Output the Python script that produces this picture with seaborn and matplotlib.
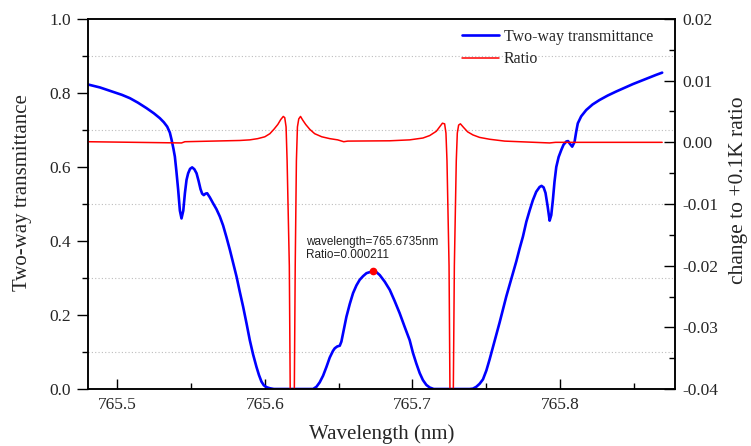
import matplotlib
matplotlib.use("Agg")
import matplotlib.pyplot as plt
import matplotlib.ticker as ticker
import seaborn as sns
import pandas as pd

# Two-way transmittance (left axis)
wl_trans = [765.4800, 765.4881, 765.4971, 765.5030, 765.5084, 765.5138, 765.5197, 765.5247,
            765.5287, 765.5314, 765.5337, 765.5355, 765.5367, 765.5379, 765.5389, 765.5399,
            765.5411, 765.5423, 765.5434, 765.5446, 765.5457, 765.5468, 765.5479, 765.5492,
            765.5506, 765.5521, 765.5536, 765.5550, 765.5563, 765.5574, 765.5585, 765.5597,
            765.5608, 765.5626, 765.5648, 765.5671, 765.5694, 765.5716, 765.5739, 765.5762,
            765.5784, 765.5807, 765.5829, 765.5852, 765.5875, 765.5897, 765.5919, 765.5942,
            765.5959, 765.5976, 765.5992, 765.6010, 765.6033, 765.6060, 765.6200, 765.6326,
            765.6349, 765.6371, 765.6394, 765.6417, 765.6439, 765.6461, 765.6473, 765.6490,
            765.6507, 765.6518, 765.6529, 765.6552, 765.6575, 765.6597, 765.6620, 765.6642,
            765.6665, 765.6688, 765.6735, 765.6755, 765.6778, 765.6812, 765.6846, 765.6879,
            765.6913, 765.6947, 765.6981, 765.7003, 765.7026, 765.7049, 765.7071, 765.7094,
            765.7117, 765.7144, 765.7388, 765.7410, 765.7433, 765.7455, 765.7478, 765.7501,
            765.7523, 765.7545, 765.7568, 765.7591, 765.7613, 765.7636, 765.7659, 765.7681,
            765.7704, 765.7726, 765.7749, 765.7772, 765.7794, 765.7816, 765.7839, 765.7862,
            765.7875, 765.7889, 765.7902, 765.7916, 765.7930, 765.7941, 765.7952, 765.7963,
            765.7975, 765.7991, 765.8009, 765.8024, 765.8043, 765.8055, 765.8065, 765.8083,
            765.8099, 765.8110, 765.8121, 765.8144, 765.8178, 765.8221, 765.8268, 765.8323,
            765.8381, 765.8438, 765.8494, 765.8551, 765.8607, 765.8652, 765.8693]
trans = [0.823, 0.815, 0.803, 0.795, 0.786, 0.774, 0.759, 0.745,
         0.732, 0.721, 0.709, 0.693, 0.673, 0.650, 0.628, 0.590,
         0.540, 0.482, 0.461, 0.482, 0.529, 0.565, 0.583, 0.595,
         0.599, 0.594, 0.583, 0.562, 0.540, 0.528, 0.524, 0.528,
         0.529, 0.518, 0.502, 0.486, 0.466, 0.442, 0.410, 0.376,
         0.341, 0.304, 0.263, 0.222, 0.177, 0.132, 0.094, 0.060,
         0.038, 0.020, 0.010, 0.005, 0.002, 0.000, 0.000, 0.000,
         0.006, 0.018, 0.036, 0.060, 0.085, 0.103, 0.110, 0.115,
         0.117, 0.128, 0.150, 0.195, 0.230, 0.259, 0.280, 0.295,
         0.305, 0.313, 0.319, 0.316, 0.308, 0.290, 0.268, 0.238,
         0.205, 0.168, 0.132, 0.098, 0.069, 0.043, 0.024, 0.011,
         0.004, 0.000, 0.000, 0.001, 0.006, 0.014, 0.026, 0.050,
         0.080, 0.112, 0.145, 0.180, 0.214, 0.250, 0.282, 0.313,
         0.345, 0.379, 0.412, 0.452, 0.482, 0.510, 0.533, 0.546,
         0.549, 0.545, 0.530, 0.495, 0.455, 0.470, 0.511, 0.560,
         0.600, 0.627, 0.646, 0.660, 0.669, 0.670, 0.664, 0.655,
         0.668, 0.695, 0.718, 0.737, 0.754, 0.769, 0.781, 0.793,
         0.804, 0.814, 0.824, 0.833, 0.842, 0.849, 0.855]

# Ratio change for +0.1K (right axis); the two dips run far below -0.04
wl_ratio = [765.4800, 765.5434, 765.5457, 765.5829, 765.5897, 765.5951, 765.5999, 765.6033,
            765.6060, 765.6087, 765.6107, 765.6124, 765.6134, 765.6143, 765.6150, 765.6165,
            765.6171, 765.6185, 765.6199, 765.6205, 765.6213, 765.6220, 765.6229, 765.6241,
            765.6256, 765.6276, 765.6304, 765.6337, 765.6385, 765.6439, 765.6493, 765.6534,
            765.6561, 765.6846, 765.6981, 765.7071, 765.7117, 765.7162, 765.7184, 765.7203,
            765.7218, 765.7227, 765.7234, 765.7248, 765.7254, 765.7266, 765.7277, 765.7284,
            765.7297, 765.7304, 765.7313, 765.7325, 765.7347, 765.7374, 765.7410, 765.7455,
            765.7523, 765.7625, 765.7726, 765.7930, 765.7970, 765.8693]
ratio = [0.0001, -0.0001, 0.0001, 0.0003, 0.0004, 0.0006, 0.0009, 0.0014,
         0.0021, 0.0029, 0.0037, 0.0042, 0.0040, 0.0025, -0.003, -0.02,
         -0.04, -0.09, -0.04, -0.02, -0.003, 0.0025, 0.0038, 0.0042,
         0.0036, 0.0029, 0.0021, 0.0014, 0.0009, 0.0006, 0.0004, 0.0001,
         0.0002, 0.00025, 0.0004, 0.0007, 0.0011, 0.0018, 0.0025, 0.0031,
         0.0030, 0.0015, -0.003, -0.02, -0.04, -0.09, -0.04, -0.02,
         -0.003, 0.0015, 0.0028, 0.0030, 0.0024, 0.0017, 0.0012, 0.0008,
         0.0005, 0.0002, 0.0001, -0.0001, 0.0, 0.0]

peak_wl = 765.6735
peak_trans = 0.319
peak_text = "wavelength=765.6735nm\nRatio=0.000211"

df_t = pd.DataFrame({"wl": wl_trans, "val": trans})
df_r = pd.DataFrame({"wl": wl_ratio, "val": ratio})

sns.set_style("white")
plt.rcParams['font.family'] = ['Liberation Serif', 'DejaVu Serif']
plt.rcParams['axes.unicode_minus'] = False

fig = plt.figure(figsize=(7.51, 4.46), dpi=100)
ax1 = fig.add_axes([88 / 751, 1 - 389 / 446, 587 / 751, 370 / 446])
ax2 = ax1.twinx()

sns.lineplot(data=df_t, x="wl", y="val", color='#0000ff', linewidth=1.9, ax=ax1,
             label='Two-way transmittance', legend=False)
sns.lineplot(data=df_r, x="wl", y="val", color='#ff0000', linewidth=1.1, ax=ax2,
             label='Ratio', legend=False)
ax1.plot([peak_wl], [peak_trans], 'o', color='#ff0000', ms=4.5, zorder=5)
ax1.text(765.6278, 0.380, peak_text, va='center', ha='left', fontsize=8.5,
         family=['Liberation Sans', 'DejaVu Sans'], color='#222222', linespacing=1.15)

ax1.set_xlim(765.48, 765.878)
ax1.set_ylim(0, 1)
ax2.set_ylim(-0.04, 0.02)

ax1.xaxis.set_major_locator(ticker.MultipleLocator(0.1))
ax1.xaxis.set_minor_locator(ticker.MultipleLocator(0.05))
ax1.xaxis.set_major_formatter(ticker.FormatStrFormatter('%.1f'))
ax1.yaxis.set_major_locator(ticker.MultipleLocator(0.2))
ax1.yaxis.set_major_formatter(ticker.FormatStrFormatter('%.1f'))
ax1.set_yticks([0.1, 0.3, 0.5, 0.7, 0.9], minor=True)
ax2.yaxis.set_major_locator(ticker.MultipleLocator(0.01))
ax2.yaxis.set_minor_locator(ticker.MultipleLocator(0.005))
ax2.yaxis.set_major_formatter(ticker.FormatStrFormatter('%.2f'))

ax1.grid(False)
ax2.grid(False)
ax1.yaxis.grid(True, which='minor', linestyle=(0, (1, 2)), color='#bdbdbd', linewidth=0.8)

ax1.tick_params(axis='x', which='both', direction='in', bottom=True, top=False,
                labelsize=12.5, pad=6, color='black')
ax1.tick_params(axis='x', which='major', length=7, width=1)
ax1.tick_params(axis='x', which='minor', length=4, width=1)
ax1.tick_params(axis='y', which='both', direction='out', left=True, right=False,
                labelsize=12.5, pad=4, color='black')
ax1.tick_params(axis='y', which='major', length=8, width=1)
ax1.tick_params(axis='y', which='minor', length=4, width=1)
ax2.tick_params(axis='y', which='both', direction='in', right=True,
                labelsize=12.5, pad=5, color='black')
ax2.tick_params(axis='y', which='major', length=8, width=1)
ax2.tick_params(axis='y', which='minor', length=4, width=1)

for ax in (ax1, ax2):
    for sp in ax.spines.values():
        sp.set_visible(True)
        sp.set_color('black')
        sp.set_linewidth(1.1)

ax1.set_xlabel('Wavelength (nm)', fontsize=15, labelpad=8)
ax1.set_ylabel('Two-way transmittance', fontsize=15)
ax2.set_ylabel('change to +0.1K ratio', fontsize=15.5)
ax1.yaxis.set_label_coords(-0.096, 0.532)
ax2.yaxis.set_label_coords(1.092, 0.538)

h1, l1 = ax1.get_legend_handles_labels()
h2, l2 = ax2.get_legend_handles_labels()
ax2.legend(h1 + h2, l1 + l2, loc='upper right', bbox_to_anchor=(653 / 751, 1 - 29 / 446),
           bbox_transform=fig.transFigure, frameon=False, fontsize=11.4,
           handlelength=2.3, handletextpad=0.3, labelspacing=0.4,
           borderpad=0, borderaxespad=0)

fig.savefig("out.png", dpi=100)
